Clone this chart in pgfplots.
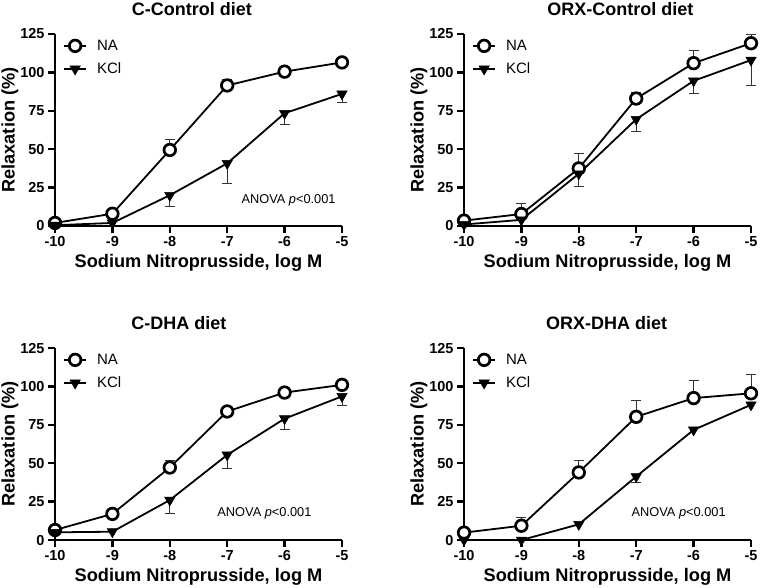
\documentclass[border=0pt]{standalone}
\usepackage{fontspec}
\setmainfont{Liberation Sans}
\usepackage{pgfplots}
\pgfplotsset{compat=1.18}

\tikzset{anova/.style={anchor=east, font=\fontsize{12.8pt}{14pt}\selectfont}}

\pgfplotsset{
  panel/.style={
    scale only axis, width=287pt, height=192pt,
    xmin=-10, xmax=-5, ymin=0, ymax=125,
    axis x line=bottom, axis y line=left,
    axis line style={line width=2.4pt, -},
    xtick={-10,-9,-8,-7,-6,-5}, xticklabels={-10,-9,-8,-7,-6,-5},
    ytick={0,25,50,75,100,125}, yticklabels={0,25,50,75,100,125},
    tick align=outside, major tick length=7pt,
    tick style={line width=2.4pt, black},
    ticklabel style={font=\fontsize{14.5pt}{16pt}\selectfont\bfseries},
    xlabel={Sodium Nitroprusside, log M},
    ylabel={Relaxation (\%)},
    label style={font=\fontsize{18.2pt}{20pt}\selectfont\bfseries},
    xlabel style={at={(axis description cs:0.5,0)}, anchor=base, yshift=-41pt, inner sep=0pt},
    ylabel style={at={(axis description cs:-0.157,0.5)}, anchor=center, inner sep=0pt},
    % the default title style already shifts by 6pt, cancel it
    title style={font=\fontsize{18pt}{20pt}\selectfont\bfseries, anchor=base, yshift=-6pt, inner sep=0pt},
    clip=false,
    legend style={draw=none, fill=none, at={(axis description cs:0.028,0.97)},
      anchor=north west, font=\fontsize{15pt}{17pt}\selectfont,
      row sep=11pt, inner sep=0pt, nodes={inner sep=0pt},
      /tikz/every odd column/.append style={column sep=10pt}},
    legend cell align=left,
    legend image code/.code={\draw[mark repeat=2,mark phase=2,##1] plot coordinates {(0pt,0pt) (11pt,0pt) (22pt,0pt)};},
  },
  na/.style={black, line width=1.8pt, mark=*, mark size=5.8pt,
    mark options={line width=2.7pt, fill=white, draw=black, solid}},
  kcl/.style={black, line width=1.8pt, mark=triangle*, mark size=6pt,
    mark options={rotate=180, fill=black, draw=black, line width=0.5pt, solid}},
  errup/.style={only marks, mark=none, forget plot,
    error bars/.cd, y dir=plus, y explicit,
    error bar style={line width=0.9pt, black!80},
    error mark options={rotate=90, mark size=5pt, line width=0.9pt, black!80}},
  errdown/.style={only marks, mark=none, forget plot,
    error bars/.cd, y dir=minus, y explicit,
    error bar style={line width=0.9pt, black!80},
    error mark options={rotate=90, mark size=5pt, line width=0.9pt, black!80}},
}

\begin{document}
\begin{tikzpicture}
\path[use as bounding box] (0,0) rectangle (760pt,-587pt);

% C-Control diet
\begin{axis}[panel, at={(55pt,-34pt)}, anchor=north west,
  title={C-Control diet}, title style={at={(axis description cs:0.477,1.094)}}]
\addplot[errup] coordinates {(-8,49.5) +- (0,7) (-7,91.5) +- (0,4.2)};
\addplot[errdown] coordinates {(-8,20) +- (0,7) (-7,40.8) +- (0,12.8) (-6,73.4) +- (0,7.6) (-5,86) +- (0,5.5)};
\addplot[na] coordinates {(-10,2) (-9,8) (-8,49.5) (-7,91.5) (-6,100.5) (-5,106.5)};
\addplot[kcl] coordinates {(-10,0.5) (-9,2) (-8,20) (-7,40.8) (-6,73.4) (-5,86)};
\legend{NA,KCl}
\node[anova] at (axis cs:-5.05,17) {ANOVA \textit{p}<0.001};
\end{axis}

% ORX-Control diet
\begin{axis}[panel, at={(464pt,-34pt)}, anchor=north west,
  title={ORX-Control diet}, title style={at={(axis description cs:0.545,1.094)}}]
\addplot[errup] coordinates {(-9,7.8) +- (0,7.2) (-8,37.5) +- (0,9.8) (-7,83) +- (0,3.8) (-6,106) +- (0,8.6) (-5,119) +- (0,5.8)};
\addplot[errdown] coordinates {(-8,34) +- (0,8) (-7,69.5) +- (0,8) (-6,94.5) +- (0,8.5) (-5,108) +- (0,16.2)};
\addplot[na] coordinates {(-10,3.5) (-9,7.8) (-8,37.5) (-7,83) (-6,106) (-5,119)};
\addplot[kcl] coordinates {(-10,1) (-9,4) (-8,34) (-7,69.5) (-6,94.5) (-5,108)};
\legend{NA,KCl}
\end{axis}

% C-DHA diet
\begin{axis}[panel, at={(55pt,-348pt)}, anchor=north west,
  title={C-DHA diet}, title style={at={(axis description cs:0.432,1.099)}}]
\addplot[errup] coordinates {(-8,47.2) +- (0,4.5) (-7,83.7) +- (0,2.5)};
\addplot[errdown] coordinates {(-8,26) +- (0,8.6) (-7,55.4) +- (0,9.1) (-6,79) +- (0,7.3) (-5,93.5) +- (0,6.1)};
\addplot[na] coordinates {(-10,6.5) (-9,17) (-8,47.2) (-7,83.7) (-6,96) (-5,101)};
\addplot[kcl] coordinates {(-10,5) (-9,5.4) (-8,26) (-7,55.4) (-6,79) (-5,93.5)};
\legend{NA,KCl}
\node[anova] at (axis cs:-5.47,17.4) {ANOVA \textit{p}<0.001};
\end{axis}

% ORX-DHA diet
\begin{axis}[panel, at={(464pt,-348pt)}, anchor=north west,
  title={ORX-DHA diet}, title style={at={(axis description cs:0.497,1.099)}}]
\addplot[errup] coordinates {(-9,9.3) +- (0,5.5) (-8,44) +- (0,7.7) (-7,80.2) +- (0,10.5) (-6,92.4) +- (0,11.8) (-5,95.5) +- (0,12)};
\addplot[errdown] coordinates {(-7,41.3) +- (0,3.7)};
\addplot[na] coordinates {(-10,4.8) (-9,9.3) (-8,44) (-7,80.2) (-6,92.4) (-5,95.5)};
\addplot[kcl] coordinates {(-10,0) (-9,0) (-8,10.2) (-7,41.3) (-6,71.7) (-5,88)};
\legend{NA,KCl}
\node[anova] at (axis cs:-5.38,17.4) {ANOVA \textit{p}<0.001};
\end{axis}
\end{tikzpicture}
\end{document}
